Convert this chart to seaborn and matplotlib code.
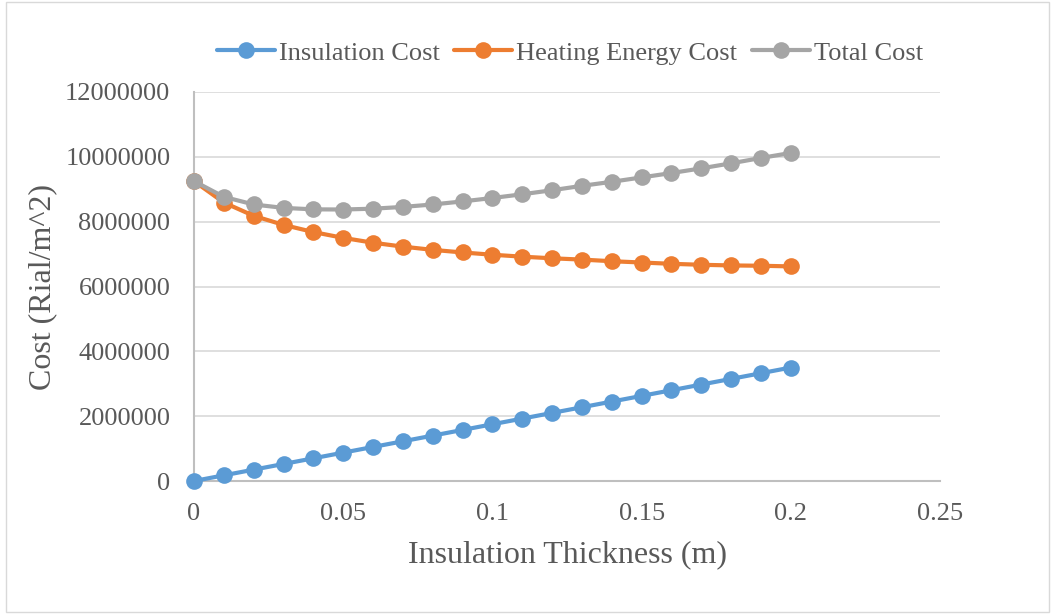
import numpy as np
import pandas as pd
import matplotlib
matplotlib.use("Agg")
import matplotlib.pyplot as plt
import seaborn as sns

thickness = [0.00, 0.01, 0.02, 0.03, 0.04, 0.05, 0.06, 0.07, 0.08, 0.09, 0.10,
             0.11, 0.12, 0.13, 0.14, 0.15, 0.16, 0.17, 0.18, 0.19, 0.20]
insulation_cost = [0, 175000, 350000, 525000, 700000, 875000, 1050000, 1225000,
                   1400000, 1575000, 1750000, 1925000, 2100000, 2275000, 2450000,
                   2625000, 2800000, 2975000, 3150000, 3325000, 3500000]
heating_cost = [9250000, 8590000, 8180000, 7900000, 7680000, 7500000, 7350000,
                7230000, 7130000, 7050000, 6980000, 6920000, 6870000, 6830000,
                6780000, 6740000, 6700000, 6670000, 6650000, 6640000, 6620000]
total_cost = [9250000, 8765000, 8530000, 8425000, 8380000, 8375000, 8400000,
              8455000, 8530000, 8625000, 8730000, 8845000, 8970000, 9105000,
              9230000, 9365000, 9500000, 9645000, 9800000, 9965000, 10120000]
series_names = ["Insulation Cost", "Heating Energy Cost", "Total Cost"]
colors = ["#5B9BD5", "#ED7D31", "#A5A5A5"]
yticks = [0, 2000000, 4000000, 6000000, 8000000, 10000000, 12000000]
xticks = [0, 0.05, 0.1, 0.15, 0.2, 0.25]
xtick_labels = ["0", "0.05", "0.1", "0.15", "0.2", "0.25"]

df = pd.DataFrame({
    "x": thickness * 3,
    "y": insulation_cost + heating_cost + total_cost,
    "series": [series_names[0]] * len(thickness) + [series_names[1]] * len(thickness)
              + [series_names[2]] * len(thickness),
})

sns.set_style("white")
plt.rcParams["font.family"] = ["Liberation Serif", "DejaVu Serif"]

fig = plt.figure(figsize=(10.53, 6.14), dpi=100)
ax = fig.add_axes([194 / 1053, 1 - 481 / 614, (940 - 194) / 1053, (481 - 92) / 614])

sns.lineplot(data=df, x="x", y="y", hue="series", hue_order=series_names,
             palette=colors, marker="o", markersize=12, markeredgewidth=0,
             linewidth=3, ax=ax, legend=True)
for line in ax.lines:
    line.set_clip_on(False)
    line.set_zorder(3)

ax.set_xlim(0, 0.25)
ax.set_ylim(0, 12000000)
ax.set_yticks(yticks)
ax.set_yticklabels([str(v) for v in yticks])
ax.set_xticks(xticks)
ax.set_xticklabels(xtick_labels)
ax.grid(axis="y", color="#D9D9D9", linewidth=1.2)
ax.grid(axis="x", visible=False)
ax.set_axisbelow(True)
for s in ["top", "right"]:
    ax.spines[s].set_visible(False)
for s in ["left", "bottom"]:
    ax.spines[s].set_color("#BFBFBF")
    ax.spines[s].set_linewidth(1.5)
    ax.spines[s].set_zorder(1)
ax.tick_params(axis="y", length=0, labelsize=19, colors="#595959", pad=17)
ax.tick_params(axis="x", length=0, labelsize=19, colors="#595959", pad=16)
ax.set_xlabel("Insulation Thickness (m)", fontsize=23, color="#595959", labelpad=11)
ax.set_ylabel("Cost (Rial/m^2)", fontsize=23, color="#595959", labelpad=6)

handles, labels = ax.get_legend_handles_labels()
leg = fig.legend(handles, labels, loc="center", bbox_to_anchor=(570 / 1053, 1 - 53 / 614),
                 ncol=3, frameon=False, fontsize=19, handlelength=2.2,
                 columnspacing=0.55, handletextpad=0.15, labelcolor="#595959")
ax.get_legend().remove()

border = plt.Rectangle((0.006, 0.004), 0.99, 0.992, transform=fig.transFigure,
                       fill=False, edgecolor="#D9D9D9", linewidth=1)
fig.patches.append(border)

fig.savefig("out.png", dpi=100)
